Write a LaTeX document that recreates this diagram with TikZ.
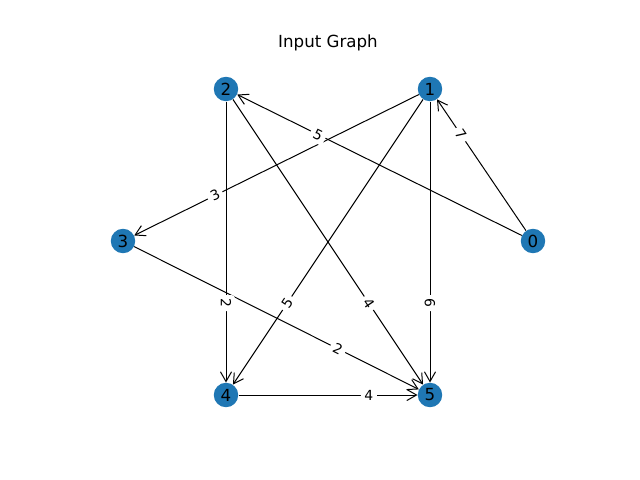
\documentclass[tikz,border=0pt]{standalone}
\usepackage{fontspec}
\setmainfont{DejaVu Sans}
\usetikzlibrary{arrows.meta}
\definecolor{nodeblue}{HTML}{1F77B4}
\tikzset{
  vert/.style={circle, fill=nodeblue, minimum size=17.6pt, inner sep=0pt, font=\fontsize{12}{12}\selectfont},
  edge/.style={draw=black, line width=0.72pt, -{Straight Barb[length=7pt,width=8pt,line width=0.72pt]}},
  elabel/.style={fill=white, rounded corners=2pt, inner sep=2.6pt, font=\fontsize{10}{10}\selectfont, sloped, pos=0.7}
}
\begin{document}
\begin{tikzpicture}[x=0.72pt, y=-0.72pt]
\useasboundingbox (0,0) rectangle (640,480);
\node[font=\fontsize{12}{12}\selectfont] (title) at (328,43) {Input Graph};
\node[vert] (n0) at (533,241) {0};
\node[vert] (n1) at (430,89) {1};
\node[vert] (n2) at (226,89) {2};
\node[vert] (n3) at (123,241) {3};
\node[vert] (n4) at (226,395) {4};
\node[vert] (n5) at (430,395) {5};
\draw[edge] (n0) -- (n1);
\draw[edge] (n0) -- (n2);
\draw[edge] (n1) -- (n3);
\draw[edge] (n1) -- (n4);
\draw[edge] (n1) -- (n5);
\draw[edge] (n2) -- (n4);
\draw[edge] (n2) -- (n5);
\draw[edge] (n3) -- (n5);
\draw[edge] (n4) -- (n5);
\path (n0.center) -- node[elabel] (l01) {7} (n1.center);
\path (n0.center) -- node[elabel] (l02) {5} (n2.center);
\path (n1.center) -- node[elabel] (l13) {3} (n3.center);
\path (n1.center) -- node[elabel] (l14) {5} (n4.center);
\path (n1.center) -- node[elabel] (l15) {6} (n5.center);
\path (n2.center) -- node[elabel] (l24) {2} (n4.center);
\path (n2.center) -- node[elabel] (l25) {4} (n5.center);
\path (n3.center) -- node[elabel] (l35) {2} (n5.center);
\path (n4.center) -- node[elabel] (l45) {4} (n5.center);
\end{tikzpicture}
\end{document}
